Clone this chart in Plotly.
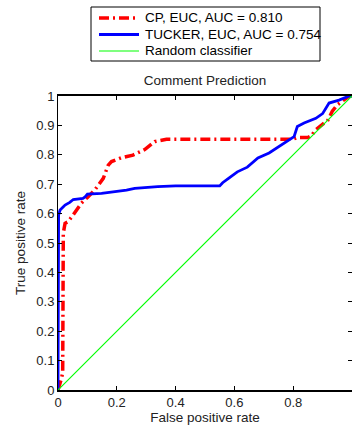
import plotly.graph_objects as go

# CP, EUC curve
cp_x = [0, 0.007, 0.012, 0.016, 0.016, 0.018, 0.024, 0.034, 0.051, 0.068, 0.08, 0.1, 0.125, 0.154,
        0.171, 0.182, 0.216, 0.255, 0.295, 0.329, 0.369, 0.45, 0.6, 0.798, 0.815, 0.85, 0.866, 0.871,
        0.905, 0.916, 0.933, 0.95, 0.973, 0.99, 1.0]
cp_y = [0, 0.02, 0.04, 0.06, 0.3, 0.533, 0.567, 0.572, 0.595, 0.619, 0.636, 0.655, 0.68, 0.72,
        0.765, 0.777, 0.79, 0.799, 0.818, 0.845, 0.853, 0.853, 0.853, 0.853, 0.859, 0.859, 0.868, 0.88,
        0.908, 0.914, 0.948, 0.97, 0.987, 0.999, 1.0]

# TUCKER, EUC curve
tk_x = [0, 0.002, 0.002, 0.007, 0.024, 0.04, 0.052, 0.085, 0.092, 0.10, 0.148, 0.233, 0.261, 0.339,
        0.373, 0.40, 0.55, 0.56, 0.58, 0.61, 0.644, 0.68, 0.718, 0.752, 0.775, 0.803, 0.814, 0.837,
        0.877, 0.9, 0.922, 0.956, 0.99, 1.0]
tk_y = [0, 0.3, 0.595, 0.612, 0.629, 0.638, 0.648, 0.652, 0.657, 0.666, 0.669, 0.68, 0.686, 0.692,
        0.694, 0.694, 0.694, 0.705, 0.72, 0.742, 0.758, 0.789, 0.806, 0.828, 0.845, 0.862, 0.896, 0.908,
        0.924, 0.94, 0.976, 0.986, 1.0, 1.0]

rand_x = [0, 1]
rand_y = [0, 1]

names = ["CP, EUC, AUC = 0.810", "TUCKER, EUC, AUC = 0.754", "Random classifier"]
colors = ["#ff0000", "#0000ff", "#00ff00"]
widths = [3.5, 2.8, 1.2]
dashes = ["10px,4px,2px,4px", "solid", "solid"]

x_ticks = [0, 0.2, 0.4, 0.6, 0.8]
x_ticklabels = ["0", "0.2", "0.4", "0.6", "0.8"]
y_ticks = [0, 0.1, 0.2, 0.3, 0.4, 0.5, 0.6, 0.7, 0.8, 0.9, 1.0]
y_ticklabels = ["0", "0.1", "0.2", "0.3", "0.4", "0.5", "0.6", "0.7", "0.8", "0.9", "1"]

FONT = "Liberation Sans, Arial, sans-serif"
W, H = 352, 429
ML, MR, MT, MB = 58, 0, 96, 39
PW, PH = W - ML - MR, H - MT - MB


def xp(px):
    return (px - ML) / PW


def yp(py):
    return (H - MB - py) / PH


fig = go.Figure()
for xs, ys, nm, c, w, d in zip([cp_x, tk_x, rand_x], [cp_y, tk_y, rand_y], names, colors, widths, dashes):
    fig.add_trace(go.Scatter(x=xs, y=ys, mode="lines", name=nm, showlegend=False,
                             line=dict(color=c, width=w, dash=d)))

# legend box (drawn manually to match compact row spacing)
shapes = [dict(type="rect", xref="paper", yref="paper", x0=xp(91), x1=xp(320), y0=yp(61), y1=yp(7),
               line=dict(color="black", width=1), fillcolor="white", layer="above")]
annotations = []
row_y = [18, 34.5, 51]
for i, nm in enumerate(names):
    shapes.append(dict(type="line", xref="paper", yref="paper", x0=xp(99), x1=xp(139),
                       y0=yp(row_y[i]), y1=yp(row_y[i]),
                       line=dict(color=colors[i], width=widths[i], dash=dashes[i]), layer="above"))
    annotations.append(dict(text=nm, xref="paper", yref="paper", x=xp(143), y=yp(row_y[i]),
                            xanchor="left", yanchor="middle", showarrow=False,
                            font=dict(size=13.5, color="black", family=FONT)))

fig.update_layout(
    width=W, height=H,
    margin=dict(l=ML, r=MR, t=MT, b=MB),
    paper_bgcolor="white", plot_bgcolor="white",
    font=dict(family=FONT, size=13, color="#222222"),
    title=dict(text="Comment Prediction", x=0.5, xref="paper", xanchor="center",
               y=1 - 80 / H, yanchor="middle", font=dict(size=13.5, color="#222222")),
    showlegend=False,
    shapes=shapes,
    annotations=annotations,
    xaxis=dict(range=[0, 1], tickvals=x_ticks, ticktext=x_ticklabels, showgrid=False,
               zeroline=False, showline=True, linecolor="black", linewidth=1.5, mirror="ticks",
               ticks="inside", ticklen=4, tickcolor="black", tickfont=dict(size=13),
               title=dict(text="False positive rate", standoff=3,
                          font=dict(size=13.5, color="#222222"))),
    yaxis=dict(range=[0, 1], tickvals=y_ticks, ticktext=y_ticklabels, showgrid=False,
               zeroline=False, showline=True, linecolor="black", linewidth=1, mirror="ticks",
               ticks="inside", ticklen=4, tickcolor="black", tickfont=dict(size=13),
               title=dict(text="True positive rate", standoff=7,
                          font=dict(size=13.5, color="#222222"))),
)

fig.write_html("out.html")
